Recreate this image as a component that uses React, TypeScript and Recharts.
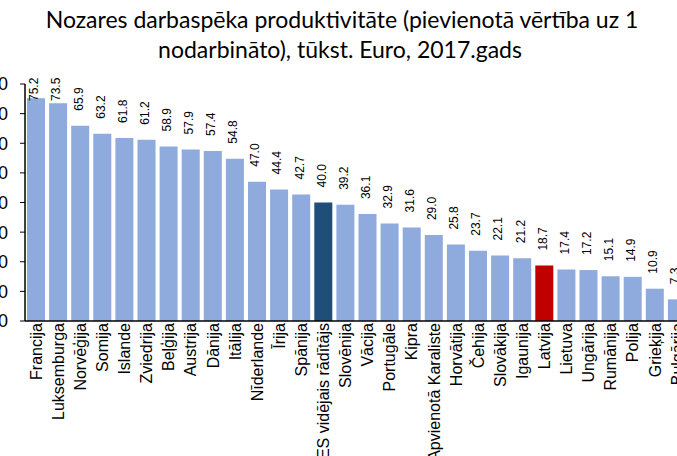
import React from "react";
import { BarChart, Bar, XAxis, YAxis, Cell, LabelList } from "recharts";

const countries = [
  "Francija", "Luksemburga", "Norvēģija", "Somija", "Islande", "Zviedrija",
  "Beļģija", "Austrija", "Dānija", "Itālija", "Nīderlande", "Īrija", "Spānija",
  "ES vidējais rādītājs", "Slovēnija", "Vācija", "Portugāle", "Kipra",
  "Apvienotā Karaliste", "Horvātija", "Čehija", "Slovākija", "Igaunija",
  "Latvija", "Lietuva", "Ungārija", "Rumānija", "Polija", "Grieķija", "Bulgārija",
];

const productivity = [
  75.2, 73.5, 65.9, 63.2, 61.8, 61.2, 58.9, 57.9, 57.4, 54.8, 47.0, 44.4, 42.7,
  40.0, 39.2, 36.1, 32.9, 31.6, 29.0, 25.8, 23.7, 22.1, 21.2, 18.7, 17.4, 17.2,
  15.1, 14.9, 10.9, 7.3,
];

const yTicks = [0, 10, 20, 30, 40, 50, 60, 70, 80];

const data = countries.map((name, i) => ({ name, value: productivity[i] }));

const BAR = "#8FAADC";
const HIGHLIGHT: Record<string, string> = {
  "ES vidējais rādītājs": "#1F4E79",
  Latvija: "#C00000",
};

const FONT = "'Liberation Sans', Arial, sans-serif";

const CountryTick = (props: any) => {
  const { x, y, payload } = props;
  return (
    <text
      transform={`translate(${x + 5.7},${y}) rotate(-90)`}
      textAnchor="end"
      fontSize={16}
      fontFamily={FONT}
      fill="#000"
    >
      {payload.value}
    </text>
  );
};

const ValueLabel = (props: any) => {
  const { x, y, width, value } = props;
  const cx = Number(x) + Number(width) / 2;
  const end = Math.max(Number(y) - 15, 101);
  return (
    <text
      transform={`translate(${cx + 2.3},${end}) rotate(-90)`}
      textAnchor="start"
      fontSize={12}
      fontFamily={FONT}
      fill="#000"
    >
      {Number(value).toFixed(1)}
    </text>
  );
};

export default function App() {
  return (
    <div
      style={{
        position: "fixed",
        left: 0,
        top: 0,
        width: 677,
        height: 456,
        overflow: "hidden",
        background: "#fff",
      }}
    >
      <svg
        width={677}
        height={70}
        style={{ position: "absolute", left: 0, top: 0 }}
      >
        <text x={342} y={28} textAnchor="middle" fontSize={23} fontFamily="Lato, sans-serif" fill="#000">
          Nozares darbaspēka produktivitāte (pievienotā vērtība uz 1
        </text>
        <text x={340} y={58} textAnchor="middle" fontSize={23} fontFamily="Lato, sans-serif" fill="#000">
          nodarbināto), tūkst. Euro, 2017.gads
        </text>
      </svg>
      <div style={{ position: "absolute", left: -40, top: 0 }}>
        <BarChart
          width={728}
          height={456}
          data={data}
          margin={{ top: 84, right: 0, bottom: 0, left: 0 }}
          barSize={18}
        >
          <XAxis
            dataKey="name"
            interval={0}
            height={135}
            tickSize={0}
            tickMargin={2}
            tick={<CountryTick />}
            axisLine={{ stroke: "#000", strokeWidth: 1.5 }}
            tickLine={false}
          />
          <YAxis
            width={65}
            domain={[0, 80]}
            ticks={yTicks}
            tickSize={5}
            tickMargin={12}
            axisLine={{ stroke: "#000", strokeWidth: 1.5 }}
            tickLine={{ stroke: "#000" }}
            tick={{ fontSize: 18, fontFamily: FONT, fill: "#000" }}
          />
          <Bar dataKey="value" isAnimationActive={false}>
            {data.map((d) => (
              <Cell key={d.name} fill={HIGHLIGHT[d.name] ?? BAR} />
            ))}
            <LabelList dataKey="value" content={<ValueLabel />} />
          </Bar>
        </BarChart>
      </div>
    </div>
  );
}
